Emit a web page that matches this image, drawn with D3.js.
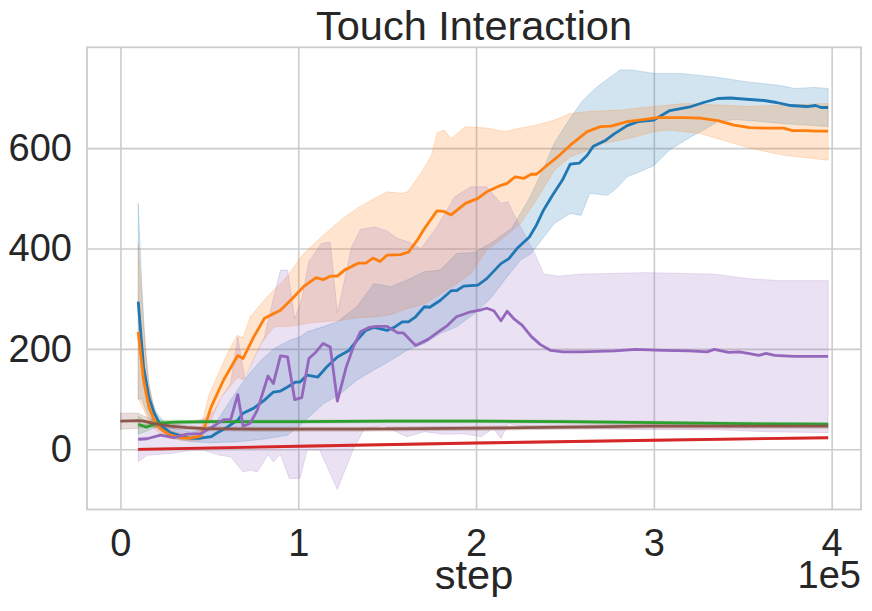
<!DOCTYPE html>
<html><head><meta charset="utf-8">
<script src="https://cdn.jsdelivr.net/npm/d3@7"></script>
<style>body{margin:0;background:#fff}svg{display:block}</style>
</head><body>
<svg id="c" width="872" height="611"></svg>
<script>
// ---- data (x in units of 1e5 steps) ----
const xTicks = [0, 1, 2, 3, 4];
const xTickLabels = ["0", "1", "2", "3", "4"];
const yTicks = [0, 200, 400, 600];
const yTickLabels = ["0", "200", "400", "600"];

const blueSteps = [0.10,0.13,0.16,0.19,0.225,0.28,0.34,0.39,0.45,0.51,0.54,0.60,0.66,0.69,0.75,0.81,0.86,0.90,0.94,0.985,1.01,1.05,1.11,1.16,1.22,1.285,1.33,1.38,1.425,1.50,1.54,1.585,1.62,1.66,1.71,1.74,1.80,1.86,1.89,1.93,2.01,2.06,2.14,2.185,2.23,2.30,2.34,2.38,2.43,2.485,2.53,2.58,2.625,2.66,2.73,2.775,2.85,2.91,3.0,3.09,3.21,3.28,3.36,3.43,3.54,3.62,3.69,3.77,3.86,3.91,3.94,3.98];
const blueMean = [294,164,104,72,48,33,27,22,22,25,32,44,58,72,82,98,114,116,124,134,134,148,144,164,184,197,217,237,243,237,243,254,254,264,284,283,297,316,316,325,327,340,370,380,400,423,447,477,506,536,568,570,586,604,616,628,645,653,656,675,683,691,699,700,697,695,691,685,683,685,681,681];
const blueHiSteps = [0.10,0.12,0.14,0.16,0.18,0.20,0.25,0.30,0.35,0.40,0.45,0.50,0.55,0.62,0.71,0.79,0.865,0.95,1.01,1.05,1.14,1.22,1.33,1.425,1.52,1.61,1.71,1.80,1.89,1.99,2.08,2.20,2.30,2.38,2.44,2.53,2.60,2.68,2.81,2.87,3.0,3.15,3.34,3.53,3.71,3.79,3.9,3.98];
const blueHi = [490,330,200,130,95,75,52,42,37,35,37,45,60,98,144,177,201,217,224,234,244,254,284,330,324,337,354,357,390,392,410,440,500,560,610,660,695,722,756,756,749,749,742,732,725,719,721,719];
const blueLoSteps = [0.10,0.12,0.14,0.16,0.20,0.25,0.30,0.35,0.40,0.50,0.66,0.80,0.94,1.0,1.14,1.24,1.33,1.425,1.52,1.61,1.71,1.80,1.89,1.99,2.08,2.16,2.25,2.31,2.44,2.53,2.59,2.64,2.74,2.79,2.85,2.9,3.0,3.09,3.21,3.28,3.36,3.45,3.54,3.73,3.98];
const blueLo = [100,100,80,65,45,30,22,18,15,13,15,20,28,45,90,111,138,158,177,197,211,231,244,270,300,337,377,390,450,470,466,510,506,520,543,550,565,597,623,636,653,657,655,649,643];

const orangeSteps = [0.10,0.13,0.16,0.19,0.225,0.28,0.34,0.39,0.45,0.47,0.51,0.58,0.66,0.69,0.75,0.81,0.90,0.96,1.03,1.10,1.14,1.18,1.22,1.26,1.34,1.38,1.42,1.46,1.50,1.575,1.62,1.67,1.71,1.78,1.82,1.86,1.94,2.01,2.06,2.14,2.175,2.22,2.27,2.31,2.34,2.40,2.46,2.53,2.625,2.70,2.76,2.85,2.94,3.02,3.17,3.26,3.36,3.45,3.54,3.63,3.73,3.78,3.86,3.91,3.98];
const orangeMean = [234,138,84,58,41,28,23,22,26,41,84,138,187,181,224,261,277,298,324,342,338,345,345,357,371,371,381,374,387,388,393,417,440,475,474,467,490,500,513,526,530,543,540,548,548,566,583,606,633,643,644,653,657,661,661,660,655,646,641,640,640,635,635,634,634];
const orangeHiSteps = [0.10,0.13,0.16,0.19,0.22,0.28,0.34,0.39,0.45,0.47,0.50,0.55,0.60,0.656,0.69,0.73,0.825,0.92,0.99,1.03,1.07,1.13,1.24,1.33,1.43,1.50,1.58,1.615,1.69,1.75,1.78,1.82,1.86,1.94,2.06,2.16,2.25,2.34,2.44,2.53,2.63,2.81,3.0,3.09,3.17,3.36,3.54,3.73,3.98];
const orangeHi = [410,250,130,80,55,38,32,30,38,70,110,150,190,227,222,264,304,337,370,390,403,423,457,480,500,513,510,513,550,586,630,636,619,643,640,633,640,646,656,669,673,676,683,686,689,686,683,686,689];
const orangeLoSteps = [0.10,0.13,0.16,0.19,0.22,0.28,0.34,0.39,0.45,0.47,0.50,0.565,0.66,0.69,0.79,0.865,0.95,1.07,1.24,1.33,1.43,1.52,1.61,1.71,1.80,1.89,1.97,2.06,2.16,2.25,2.34,2.44,2.53,2.63,2.72,2.81,2.9,3.0,3.09,3.26,3.36,3.54,3.73,3.98];
const orangeLo = [100,80,55,42,32,22,18,17,18,30,50,104,144,138,211,244,245,252,257,262,264,268,280,290,310,330,350,397,423,450,497,556,583,596,610,616,623,633,636,629,619,600,586,576];

const greenSteps = [0.10,0.145,0.21,0.31,0.5,1.0,1.5,2.0,2.5,3.0,3.5,3.98];
const greenMean = [50,44,52,54,55,55,56,56,55,53,51,50];
const greenHi = [66,56,58,58,58,58,59,59,58,56,54,53];
const greenLo = [30,36,46,50,52,52,53,53,52,50,48,47];

const redSteps = [0.10,1.0,2.0,3.0,3.98];
const redMean = [0,6,12.5,18,23];
const redHi = [2,8,14.5,20,25];
const redLo = [-2,4,10.5,16,21];

const purpleSteps = [0.10,0.15,0.225,0.30,0.375,0.45,0.525,0.58,0.62,0.66,0.69,0.73,0.77,0.83,0.86,0.90,0.94,0.98,1.02,1.06,1.10,1.14,1.18,1.22,1.27,1.31,1.35,1.40,1.44,1.50,1.56,1.59,1.66,1.73,1.78,1.84,1.89,1.97,2.03,2.06,2.10,2.14,2.175,2.21,2.26,2.31,2.36,2.42,2.49,2.59,2.78,2.9,3.05,3.2,3.3,3.34,3.42,3.48,3.53,3.59,3.63,3.68,3.79,3.98];
const purpleMean = [20,21,28,23,30,31,46,59,59,109,46,52,78,146,131,186,184,99,103,181,194,211,204,96,164,204,234,243,245,245,232,232,207,219,232,247,264,274,278,281,276,256,275,261,247,225,209,197,194,194,196,199,197,196,194,199,193,194,191,187,191,187,185,185];
const purpleHiSteps = [0.10,0.2,0.3,0.4,0.48,0.53,0.58,0.62,0.66,0.70,0.75,0.81,0.86,0.90,0.94,0.98,1.02,1.06,1.13,1.18,1.22,1.30,1.35,1.43,1.50,1.56,1.62,1.69,1.78,1.88,1.97,2.06,2.14,2.18,2.21,2.27,2.33,2.38,2.46,2.59,2.96,3.34,3.53,3.71,3.98];
const purpleHi = [50,48,52,55,62,78,110,131,224,140,180,224,300,357,357,260,300,374,410,413,271,403,438,443,435,420,413,400,443,503,523,523,490,493,470,430,390,350,345,349,352,349,340,336,336];
const purpleLoSteps = [0.10,0.15,0.29,0.40,0.47,0.56,0.62,0.69,0.73,0.77,0.83,0.86,0.90,0.95,1.01,1.05,1.12,1.22,1.31,1.37,1.48,1.55,1.61,1.71,1.82,1.93,2.03,2.08,2.10,2.14,2.18,2.3,2.59,2.96,3.34,3.63,3.98];
const purpleLo = [-25,-12,-8,-2,-2,-12,-15,-45,-42,-45,-11,-25,-10,-58,-58,-1,-1,-80,0,40,48,35,25,35,30,31,25,38,41,21,51,44,41,39,39,35,33];

const brownSteps = [0.0,0.1,0.132,0.19,0.28,0.375,0.47,0.75,1.31,2.06,2.96,3.98];
const brownMean = [56,57,56,51,46,43,41,40,40,42,46,46];
const brownHi = [72,72,66,58,51,47,45,44,44,46,50,50];
const brownLo = [40,42,46,44,41,39,37,36,36,38,42,42];

// ---- chart ----
const L = 87, R = 861, T = 47.3, B = 509.5;
const x = d3.scaleLinear().domain([-0.188, 4.165]).range([L, R]);
const y = d3.scaleLinear().domain([-120, 801]).range([B, T]);
const svg = d3.select('#c');
const FONT = '"Liberation Sans", Arial, Helvetica, sans-serif';
const TXT = '#262626';
const GRID = '#cccccc';

// grid + ticks via axes
const gx = svg.append('g').attr('transform', `translate(0,${B})`)
  .call(d3.axisBottom(x).tickValues(xTicks).tickSize(-(B - T)).tickPadding(20)
    .tickFormat((d, i) => xTickLabels[i]));
const gy = svg.append('g').attr('transform', `translate(${L},0)`)
  .call(d3.axisLeft(y).tickValues(yTicks).tickSize(-(R - L)).tickPadding(15)
    .tickFormat((d, i) => yTickLabels[i]));
[gx, gy].forEach(g => {
  g.select('.domain').remove();
  g.selectAll('.tick line').attr('stroke', GRID).attr('stroke-width', 1.6);
  g.selectAll('.tick text').attr('fill', TXT).style('font-family', FONT).style('font-size', '38px');
});

const line = d3.line().x(d => x(d[0])).y(d => y(d[1]));
const zip = (s, v) => s.map((t, i) => [t, v[i]]);

const series = [
  {c: '#1f77b4', s: blueSteps, m: blueMean, hs: blueHiSteps, h: blueHi, ls: blueLoSteps, l: blueLo},
  {c: '#ff7f0e', s: orangeSteps, m: orangeMean, hs: orangeHiSteps, h: orangeHi, ls: orangeLoSteps, l: orangeLo},
  {c: '#2ca02c', s: greenSteps, m: greenMean, hs: greenSteps, h: greenHi, ls: greenSteps, l: greenLo},
  {c: '#d62728', s: redSteps, m: redMean, hs: redSteps, h: redHi, ls: redSteps, l: redLo},
  {c: '#9467bd', s: purpleSteps, m: purpleMean, hs: purpleHiSteps, h: purpleHi, ls: purpleLoSteps, l: purpleLo},
  {c: '#8c564b', s: brownSteps, m: brownMean, hs: brownSteps, h: brownHi, ls: brownSteps, l: brownLo}
];

const plot = svg.append('g');
series.forEach(sr => {
  const pts = zip(sr.hs, sr.h).concat(zip(sr.ls, sr.l).reverse());
  plot.append('path').attr('d', line(pts) + 'Z')
    .attr('fill', sr.c).attr('fill-opacity', 0.2)
    .attr('stroke', sr.c).attr('stroke-opacity', 0.2).attr('stroke-width', 1);
});
series.forEach(sr => {
  plot.append('path').attr('d', line(zip(sr.s, sr.m)))
    .attr('fill', 'none').attr('stroke', sr.c).attr('stroke-width', 2.8)
    .attr('stroke-linejoin', 'round').attr('stroke-linecap', 'butt');
});

// frame
svg.append('rect').attr('x', L).attr('y', T).attr('width', R - L).attr('height', B - T)
  .attr('fill', 'none').attr('stroke', GRID).attr('stroke-width', 1.8);

// texts
svg.append('text').attr('x', (L + R) / 2).attr('y', 40).attr('text-anchor', 'middle')
  .style('font-family', FONT).style('font-size', '41.5px').attr('fill', TXT).text('Touch Interaction');
svg.append('text').attr('x', (L + R) / 2).attr('y', 589).attr('text-anchor', 'middle')
  .style('font-family', FONT).style('font-size', '41.5px').attr('fill', TXT).text('step');
svg.append('text').attr('x', R).attr('y', 588).attr('text-anchor', 'end')
  .style('font-family', FONT).style('font-size', '38px').attr('fill', TXT).text('1e5');
</script>
</body></html>
